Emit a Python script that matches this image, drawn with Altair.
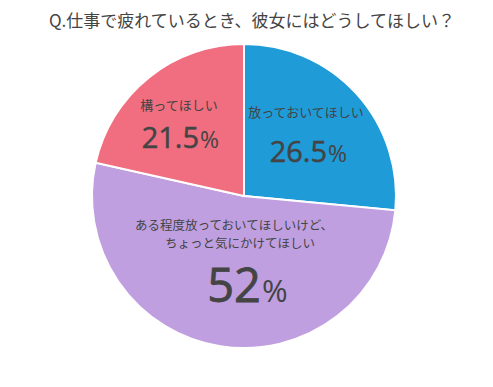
import altair as alt
import pandas as pd

categories = ["放っておいてほしい", "ある程度放っておいてほしいけど、ちょっと気にかけてほしい", "構ってほしい"]
values = [26.5, 52, 21.5]
value_labels = ["26.5", "52", "21.5"]
colors = ["#1f9bd8", "#bf9fdf", "#f06e80"]
title_text = "Q.仕事で疲れているとき、彼女にはどうしてほしい？"

df = pd.DataFrame({"cat": categories, "val": values, "order": [0, 1, 2]})

W, H = 470, 362
cx, cy, R = 236, 188, 152
FONT = "Noto Sans CJK JP"
TXT = "#444444"

pie = alt.Chart(df).mark_arc(stroke="white", strokeWidth=2, outerRadius=R).encode(
    theta=alt.Theta("val:Q", stack=True),
    order=alt.Order("order:Q"),
    color=alt.Color("cat:N", scale=alt.Scale(domain=categories, range=colors), legend=None),
    x=alt.value(cx), y=alt.value(cy),
)

def txt(text, x, y, size):
    return alt.Chart(pd.DataFrame({"t": [text]})).mark_text(
        font=FONT, fontSize=size, color=TXT, align="center", baseline="middle"
    ).encode(text="t:N", x=alt.value(x), y=alt.value(y))

def num(text, x, ybase, size, psize, sw):
    a = alt.Chart(pd.DataFrame({"t": [text]})).mark_text(
        font="Open Sans", fontSize=size, color=TXT, align="right", baseline="alphabetic",
        stroke=TXT, strokeWidth=sw
    ).encode(text="t:N", x=alt.value(x), y=alt.value(ybase))
    b = alt.Chart(pd.DataFrame({"t": ["%"]})).mark_text(
        font="Open Sans", fontSize=psize, color=TXT, align="left", baseline="alphabetic"
    ).encode(text="t:N", x=alt.value(x + 1), y=alt.value(ybase))
    return a + b

layers = [
    pie,
    txt(title_text, 244, 14, 17),
    txt(categories[2], 171, 98, 13),
    num(value_labels[2], 191, 140, 29, 23, 0.5),
    txt(categories[0], 298, 105, 13),
    num(value_labels[0], 319, 154, 29, 23, 0.5),
    txt("ある程度放っておいてほしいけど、", 226, 218, 12.5),
    txt("ちょっと気にかけてほしい", 232, 236, 12.5),
    num(value_labels[1], 253, 294, 47, 31, 0.8),
]

chart = alt.layer(*layers).properties(
    width=W, height=H, padding=0, background="white",
    autosize=alt.AutoSizeParams(type="none")
).configure_view(strokeWidth=0)

chart.save("out.html", embed_options={"renderer": "svg", "actions": False})
